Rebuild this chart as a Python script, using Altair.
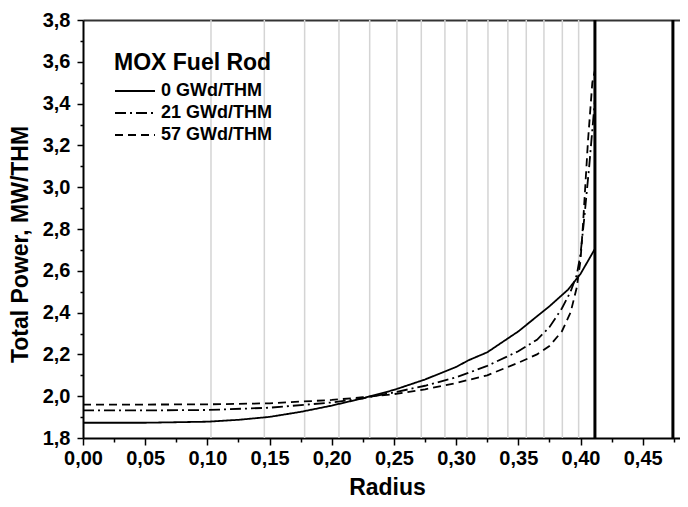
import altair as alt
import pandas as pd

series_names = ["0 GWd/THM", "21 GWd/THM", "57 GWd/THM"]

r_0 = [0.0, 0.05, 0.10, 0.125, 0.15, 0.175, 0.20, 0.225, 0.25, 0.275, 0.30, 0.31,
       0.325, 0.35, 0.375, 0.39, 0.40, 0.4116]
p_0 = [1.873, 1.873, 1.878, 1.887, 1.901, 1.925, 1.955, 1.99, 2.03, 2.08, 2.14, 2.172,
       2.21, 2.31, 2.43, 2.51, 2.585, 2.705]

r_21 = [0.0, 0.05, 0.10, 0.15, 0.20, 0.225, 0.25, 0.275, 0.30, 0.325, 0.35, 0.365,
        0.375, 0.385, 0.392, 0.397, 0.40, 0.403, 0.407, 0.4116]
p_21 = [1.932, 1.932, 1.934, 1.945, 1.97, 1.99, 2.018, 2.05, 2.09, 2.145, 2.215, 2.27,
        2.33, 2.42, 2.50, 2.58, 2.68, 2.85, 3.10, 3.42]

r_57 = [0.0, 0.05, 0.10, 0.15, 0.20, 0.225, 0.25, 0.275, 0.30, 0.325, 0.35, 0.365,
        0.375, 0.385, 0.392, 0.397, 0.40, 0.402, 0.406, 0.4095, 0.4116]
p_57 = [1.960, 1.960, 1.961, 1.966, 1.982, 1.995, 2.01, 2.033, 2.063, 2.10, 2.16, 2.20,
        2.24, 2.31, 2.40, 2.52, 2.65, 2.82, 3.22, 3.50, 3.56]

mesh_radii = [0.1029, 0.1458, 0.1782, 0.2058, 0.2305, 0.2524, 0.2720, 0.2910, 0.3087,
              0.3256, 0.3416, 0.3564, 0.3706, 0.3854, 0.3985]
boundary_radii = [0.4116, 0.4743]

x_major = [0.00, 0.05, 0.10, 0.15, 0.20, 0.25, 0.30, 0.35, 0.40, 0.45]
x_minor = [0.025, 0.075, 0.125, 0.175, 0.225, 0.275, 0.325, 0.375, 0.425, 0.475]
y_major = [1.8, 2.0, 2.2, 2.4, 2.6, 2.8, 3.0, 3.2, 3.4, 3.6, 3.8]
y_minor = [1.9, 2.1, 2.3, 2.5, 2.7, 2.9, 3.1, 3.3, 3.5, 3.7]

FONT = "Liberation Sans"

rows = []
for name, rr, pp in zip(series_names, [r_0, r_21, r_57], [p_0, p_21, p_57]):
    for i, (a, b) in enumerate(zip(rr, pp)):
        rows.append({"series": name, "r": a, "p": b, "order": i})
curves_df = pd.DataFrame(rows)
mesh_df = pd.DataFrame({"r": mesh_radii})
bound_df = pd.DataFrame({"r": boundary_radii})
yminor_df = pd.DataFrame({"p": y_minor, "r": [0.0] * len(y_minor)})

xs = alt.Scale(domain=[0, 0.48], nice=False, zero=False)
ys = alt.Scale(domain=[1.8, 3.8], nice=False, zero=False)

x_main_axis = alt.Axis(
    values=x_major, labelExpr="replace(format(datum.value, '.2f'), '.', ',')",
    orient="bottom", grid=False, domain=True, domainColor="black", domainWidth=2,
    ticks=True, tickSize=7, tickWidth=1.5, tickColor="black",
    labelFont=FONT, labelFontSize=20, labelFontWeight="bold", labelColor="black",
    labelPadding=3, labelFlush=False, labelOverlap=False,
    title="Radius", titleFont=FONT, titleFontSize=23, titleFontWeight="bold",
    titleColor="black", titleX=304, titleY=56, titleBaseline="alphabetic",
    titleAlign="center",
)
x_minor_axis = alt.Axis(
    values=x_minor, orient="bottom", grid=False, domain=False, labels=False,
    ticks=True, tickSize=4, tickWidth=1.5, tickColor="black",
)
x_top_axis = alt.Axis(
    orient="top", grid=False, domain=True, domainColor="#333333", domainWidth=2,
    labels=False, ticks=False,
)
y_main_axis = alt.Axis(
    values=y_major, labelExpr="replace(format(datum.value, '.1f'), '.', ',')",
    orient="left", grid=False, domain=True, domainColor="black", domainWidth=2,
    ticks=True, tickSize=6, tickWidth=1.5, tickColor="black",
    labelFont=FONT, labelFontSize=20, labelFontWeight="bold", labelColor="black",
    labelPadding=7, labelFlush=False, labelOverlap=False,
    title="Total Power, MW/THM", titleFont=FONT, titleFontSize=23,
    titleFontWeight="bold", titleColor="black", titleAngle=270,
    titleX=-56, titleY=224, titleBaseline="alphabetic", titleAlign="center",
)
y_minor_axis = alt.Axis(
    values=y_minor, orient="left", grid=False, domain=False, labels=False,
    ticks=True, tickSize=3, tickWidth=1.5, tickColor="black",
)

mesh = alt.Chart(mesh_df).mark_rule(color="#d4d4d4", strokeWidth=1.5).encode(
    x=alt.X("r:Q", scale=xs, axis=x_main_axis)
)

bounds = alt.Chart(bound_df).mark_rule(color="black", strokeWidth=3).encode(
    x=alt.X("r:Q", scale=xs, axis=x_minor_axis, title=None)
)

curves = alt.Chart(curves_df).mark_line(color="black", strokeWidth=1.8).encode(
    x=alt.X("r:Q", scale=xs, axis=x_top_axis, title=None),
    y=alt.Y("p:Q", scale=ys, axis=y_main_axis),
    order="order:Q",
    strokeDash=alt.StrokeDash(
        "series:N",
        scale=alt.Scale(domain=series_names, range=[[1, 0], [11, 4, 2, 4], [8, 5]]),
        legend=alt.Legend(
            title="MOX Fuel Rod", orient="none", legendX=31, legendY=32,
            titleFont=FONT, titleFontSize=23, titleFontWeight="bold",
            titleColor="black", titlePadding=5,
            labelFont=FONT, labelFontSize=18, labelFontWeight="bold",
            labelColor="black", labelOffset=25,
            symbolType="M-1,0H3", symbolSize=400, symbolStrokeWidth=1.8,
            symbolStrokeColor="black", symbolFillColor="transparent",
            rowPadding=2,
        ),
    ),
)

yminor = alt.Chart(yminor_df).mark_point(opacity=0).encode(
    x=alt.X("r:Q", scale=xs, axis=None),
    y=alt.Y("p:Q", scale=ys, axis=y_minor_axis, title=None),
)

chart = (
    alt.layer(mesh, bounds, curves, yminor)
    .resolve_axis(x="independent", y="independent")
    .properties(
        width=597, height=418,
        autosize=alt.AutoSizeParams(type="none"),
        padding={"left": 75, "top": 12, "right": 0, "bottom": 61},
        background="white",
    )
    .configure_view(stroke=None)
)

chart.save("out.html", embed_options={"renderer": "svg", "actions": False})
